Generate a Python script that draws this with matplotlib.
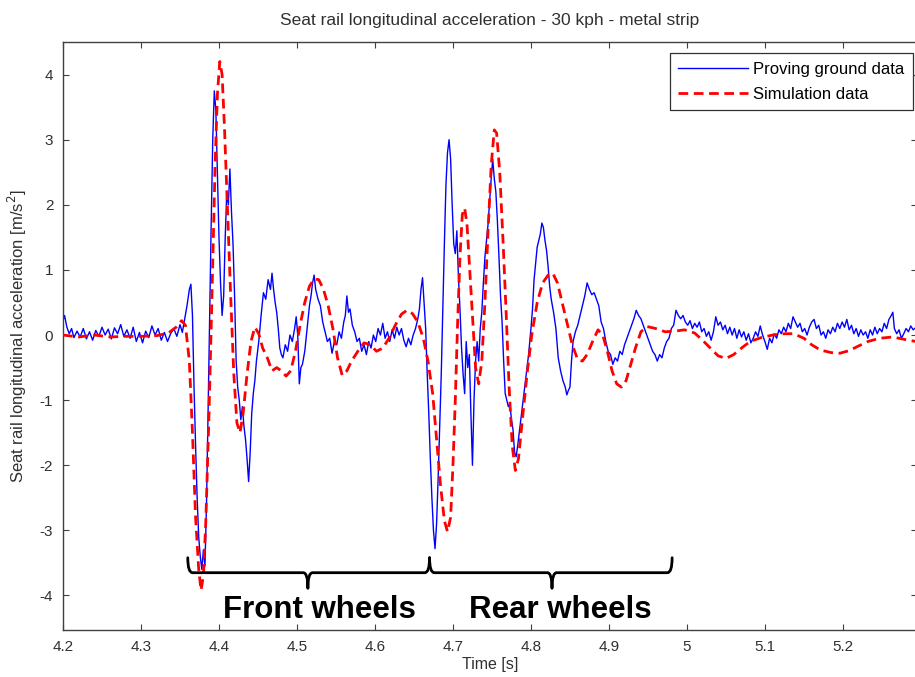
import matplotlib
matplotlib.use("Agg")
import matplotlib.pyplot as plt
from matplotlib.path import Path
from matplotlib.patches import PathPatch

# proving ground data (time [s], acceleration [m/s^2])
blue_t = [4.200, 4.202, 4.205, 4.208, 4.211, 4.214, 4.218, 4.222, 4.226, 4.230,
          4.234, 4.238, 4.242, 4.246, 4.250, 4.254, 4.258, 4.262, 4.266, 4.270,
          4.274, 4.278, 4.282, 4.286, 4.290, 4.294, 4.298, 4.302, 4.306, 4.310,
          4.314, 4.318, 4.322, 4.326, 4.330, 4.334, 4.338, 4.342, 4.346, 4.350,
          4.353, 4.356, 4.359, 4.362, 4.364, 4.366, 4.368, 4.370, 4.372, 4.374,
          4.376, 4.378, 4.380, 4.382, 4.384, 4.386, 4.388, 4.390, 4.392, 4.394,
          4.396, 4.398, 4.400, 4.402, 4.404, 4.406, 4.408, 4.410, 4.412, 4.414,
          4.416, 4.418, 4.420, 4.422, 4.424, 4.426, 4.428, 4.430, 4.432, 4.434,
          4.436, 4.438, 4.440, 4.442, 4.444, 4.446, 4.448, 4.451, 4.454, 4.457,
          4.460, 4.463, 4.466, 4.468, 4.470, 4.472, 4.474, 4.476, 4.478, 4.480,
          4.482, 4.485, 4.488, 4.491, 4.494, 4.497, 4.499, 4.501, 4.503, 4.505,
          4.507, 4.510, 4.513, 4.516, 4.518, 4.520, 4.522, 4.524, 4.527, 4.530,
          4.533, 4.536, 4.539, 4.542, 4.545, 4.548, 4.551, 4.554, 4.557, 4.560,
          4.562, 4.564, 4.566, 4.568, 4.571, 4.574, 4.577, 4.580, 4.583, 4.586,
          4.589, 4.592, 4.595, 4.598, 4.601, 4.604, 4.607, 4.610, 4.613, 4.616,
          4.619, 4.622, 4.625, 4.628, 4.631, 4.634, 4.637, 4.640, 4.643, 4.646,
          4.649, 4.652, 4.655, 4.657, 4.659, 4.661, 4.663, 4.665, 4.667, 4.669,
          4.671, 4.673, 4.675, 4.677, 4.679, 4.681, 4.683, 4.685, 4.687, 4.689,
          4.691, 4.693, 4.695, 4.697, 4.699, 4.701, 4.703, 4.705, 4.707, 4.709,
          4.711, 4.713, 4.715, 4.717, 4.719, 4.721, 4.723, 4.725, 4.727, 4.729,
          4.731, 4.733, 4.735, 4.737, 4.739, 4.741, 4.743, 4.745, 4.747, 4.749,
          4.751, 4.753, 4.755, 4.757, 4.759, 4.761, 4.763, 4.765, 4.767, 4.769,
          4.771, 4.773, 4.775, 4.777, 4.779, 4.781, 4.783, 4.785, 4.788, 4.791,
          4.794, 4.797, 4.800, 4.802, 4.804, 4.806, 4.808, 4.810, 4.812, 4.814,
          4.816, 4.818, 4.820, 4.822, 4.824, 4.826, 4.829, 4.832, 4.835, 4.838,
          4.841, 4.844, 4.846, 4.848, 4.850, 4.852, 4.854, 4.857, 4.860, 4.863,
          4.866, 4.869, 4.872, 4.875, 4.878, 4.881, 4.884, 4.887, 4.890, 4.893,
          4.896, 4.899, 4.902, 4.905, 4.908, 4.911, 4.914, 4.917, 4.920, 4.923,
          4.926, 4.929, 4.932, 4.935, 4.938, 4.941, 4.944, 4.947, 4.950, 4.953,
          4.956, 4.959, 4.962, 4.965, 4.968, 4.971, 4.974, 4.977, 4.980, 4.983,
          4.986, 4.989, 4.992, 4.995, 4.998, 5.001, 5.004, 5.007, 5.010, 5.013,
          5.016, 5.019, 5.022, 5.025, 5.028, 5.031, 5.034, 5.037, 5.040, 5.043,
          5.046, 5.049, 5.052, 5.055, 5.058, 5.061, 5.064, 5.067, 5.070, 5.073,
          5.076, 5.079, 5.082, 5.085, 5.088, 5.091, 5.094, 5.097, 5.100, 5.103,
          5.106, 5.109, 5.112, 5.115, 5.118, 5.121, 5.124, 5.127, 5.130, 5.133,
          5.136, 5.139, 5.142, 5.145, 5.148, 5.151, 5.154, 5.157, 5.160, 5.163,
          5.166, 5.169, 5.172, 5.175, 5.178, 5.181, 5.184, 5.187, 5.190, 5.193,
          5.196, 5.199, 5.202, 5.205, 5.208, 5.211, 5.214, 5.217, 5.220, 5.223,
          5.226, 5.229, 5.232, 5.235, 5.238, 5.241, 5.244, 5.247, 5.250, 5.253,
          5.256, 5.259, 5.262, 5.264, 5.266, 5.269, 5.272, 5.275, 5.278, 5.281,
          5.284, 5.287, 5.290, 5.294]
blue_acc = [0.22, 0.30, 0.12, 0.02, 0.10, -0.04, 0.06, -0.03, 0.10, -0.06,
            0.05, -0.08, 0.07, -0.02, 0.12, 0.00, 0.09, -0.06, 0.11, 0.02,
            0.16, -0.02, 0.08, -0.05, 0.12, -0.10, 0.04, -0.12, 0.06, -0.04,
            0.14, 0.00, 0.10, -0.08, 0.04, -0.10, 0.02, 0.10, -0.02, 0.16,
            0.04, 0.25, 0.45, 0.70, 0.78, 0.30, -0.80, -1.70, -2.50, -3.10,
            -3.40, -3.60, -3.30, -3.55, -2.60, -1.20, 0.30, 1.70, 3.00, 3.75,
            3.45, 2.50, 1.50, 0.80, 0.30, 0.60, 1.50, 2.20, 2.00, 2.55,
            1.90, 1.40, 0.60, -0.40, -0.80, -1.00, -1.30, -1.10, -1.40, -1.60,
            -1.90, -2.25, -1.80, -1.20, -0.90, -0.70, -0.40, -0.10, 0.30, 0.65,
            0.55, 0.85, 0.70, 0.95, 0.70, 0.50, 0.35, 0.10, -0.20, -0.30,
            -0.35, -0.15, -0.25, 0.00, -0.10, 0.10, 0.28, 0.00, -0.75, -0.50,
            -0.45, -0.25, 0.10, 0.45, 0.60, 0.80, 0.92, 0.70, 0.55, 0.45,
            0.20, 0.05, -0.10, -0.05, -0.28, -0.10, -0.15, 0.05, -0.05, 0.20,
            0.30, 0.60, 0.35, 0.40, 0.15, 0.05, -0.10, -0.05, -0.25, -0.15,
            -0.30, -0.10, -0.20, 0.00, -0.10, 0.10, 0.00, 0.18, -0.05, 0.05,
            -0.10, 0.08, -0.05, 0.12, 0.00, 0.10, -0.08, -0.18, -0.05, -0.15,
            0.00, 0.10, 0.25, 0.40, 0.70, 0.88, 0.50, 0.10, -0.60, -1.20,
            -1.90, -2.50, -3.00, -3.28, -2.90, -2.20, -1.40, -0.60, 0.40, 1.40,
            2.30, 2.80, 3.00, 2.70, 2.00, 1.40, 1.25, 1.60, 0.90, 0.40,
            -0.20, -0.60, -0.90, -0.10, -0.50, -0.30, -1.20, -2.00, -1.00, -0.40,
            -0.10, -0.40, 0.10, 0.35, 0.80, 1.20, 1.45, 1.70, 2.05, 2.40,
            2.70, 2.40, 2.20, 1.75, 1.20, 0.60, 0.20, -0.40, -0.90, -1.00,
            -1.10, -1.05, -1.30, -1.45, -1.80, -1.87, -1.70, -1.50, -1.20, -0.90,
            -0.60, -0.30, 0.10, 0.40, 0.85, 1.10, 1.35, 1.45, 1.55, 1.72,
            1.65, 1.45, 1.30, 1.05, 0.75, 0.55, 0.35, 0.10, -0.35, -0.55,
            -0.70, -0.80, -0.92, -0.85, -0.80, -0.40, -0.10, 0.05, 0.15, 0.30,
            0.45, 0.60, 0.80, 0.70, 0.62, 0.65, 0.55, 0.45, 0.20, 0.10,
            -0.10, -0.25, -0.30, -0.45, -0.35, -0.40, -0.25, -0.30, -0.15, -0.05,
            0.05, 0.15, 0.25, 0.38, 0.30, 0.25, 0.15, 0.05, -0.05, -0.15,
            -0.25, -0.30, -0.40, -0.30, -0.35, -0.20, -0.10, -0.05, 0.10, 0.15,
            0.38, 0.30, 0.25, 0.30, 0.20, 0.15, 0.22, 0.10, 0.18, 0.12,
            0.20, 0.05, 0.10, -0.02, 0.05, -0.08, 0.05, 0.28, 0.15, 0.20,
            0.08, 0.15, 0.02, 0.12, 0.00, 0.10, -0.05, 0.08, -0.03, 0.05,
            -0.08, 0.02, -0.12, -0.05, 0.05, -0.02, 0.14, 0.00, -0.10, -0.22,
            -0.05, -0.12, 0.02, -0.05, 0.08, 0.02, 0.12, 0.05, 0.18, 0.10,
            0.28, 0.20, 0.12, 0.18, 0.05, 0.10, 0.00, 0.12, 0.20, 0.24,
            0.10, 0.15, 0.00, 0.05, -0.05, 0.08, 0.02, 0.12, 0.05, 0.18,
            0.10, 0.20, 0.12, 0.24, 0.08, 0.15, 0.02, 0.10, -0.02, 0.08,
            0.00, 0.05, -0.05, 0.08, 0.00, 0.12, 0.02, 0.10, 0.05, 0.18,
            0.10, 0.24, 0.30, 0.35, 0.10, 0.02, 0.08, -0.05, 0.02, 0.10,
            0.05, 0.14, 0.08, 0.12]

# simulation data
sim_t = [4.200, 4.220, 4.240, 4.260, 4.280, 4.300, 4.320, 4.335, 4.345, 4.352,
         4.357, 4.362, 4.366, 4.370, 4.374, 4.377, 4.380, 4.383, 4.387, 4.391,
         4.395, 4.398, 4.401, 4.404, 4.407, 4.411, 4.415, 4.419, 4.423, 4.427,
         4.431, 4.436, 4.441, 4.446, 4.451, 4.456, 4.462, 4.468, 4.474, 4.480,
         4.486, 4.492, 4.498, 4.504, 4.510, 4.516, 4.522, 4.528, 4.534, 4.540,
         4.546, 4.552, 4.558, 4.564, 4.570, 4.578, 4.586, 4.594, 4.602, 4.610,
         4.618, 4.626, 4.634, 4.641, 4.648, 4.655, 4.662, 4.668, 4.674, 4.679,
         4.684, 4.689, 4.693, 4.697, 4.700, 4.703, 4.706, 4.709, 4.712, 4.715,
         4.718, 4.721, 4.725, 4.729, 4.733, 4.737, 4.741, 4.745, 4.749, 4.753,
         4.756, 4.760, 4.764, 4.768, 4.772, 4.776, 4.780, 4.784, 4.789, 4.795,
         4.801, 4.808, 4.815, 4.822, 4.828, 4.834, 4.840, 4.847, 4.853, 4.860,
         4.866, 4.872, 4.879, 4.886, 4.892, 4.898, 4.904, 4.910, 4.916, 4.922,
         4.928, 4.934, 4.941, 4.949, 4.960, 4.972, 4.985, 4.997, 5.010, 5.020,
         5.030, 5.040, 5.050, 5.060, 5.070, 5.081, 5.095, 5.110, 5.125, 5.137,
         5.150, 5.160, 5.171, 5.185, 5.196, 5.208, 5.218, 5.232, 5.247, 5.264,
         5.280, 5.294]
sim_acc = [0.00, -0.03, 0.00, -0.03, -0.02, -0.02, -0.01, 0.03, 0.12, 0.22,
           0.15, -0.40, -1.50, -2.80, -3.60, -3.92, -3.70, -2.90, -1.30, 0.60,
           2.60, 3.70, 4.20, 4.00, 3.20, 1.90, 0.60, -0.60, -1.35, -1.50,
           -1.20, -0.60, -0.10, 0.12, 0.02, -0.20, -0.35, -0.55, -0.50, -0.55,
           -0.63, -0.55, -0.25, 0.15, 0.50, 0.75, 0.86, 0.85, 0.70, 0.45,
           0.10, -0.35, -0.62, -0.55, -0.40, -0.25, -0.12, -0.15, -0.25, -0.20,
           -0.05, 0.15, 0.32, 0.38, 0.33, 0.20, -0.05, -0.40, -0.90, -1.60,
           -2.30, -2.85, -3.02, -2.80, -2.00, -1.00, 0.20, 1.20, 1.85, 1.95,
           1.70, 1.10, 0.30, -0.50, -0.75, -0.40, 0.50, 1.60, 2.60, 3.15,
           3.10, 2.50, 1.50, 0.40, -0.80, -1.70, -2.08, -1.90, -1.30, -0.60,
           0.00, 0.50, 0.80, 0.92, 0.95, 0.80, 0.50, 0.15, -0.15, -0.38,
           -0.40, -0.30, -0.10, 0.08, 0.00, -0.25, -0.55, -0.75, -0.80, -0.70,
           -0.45, -0.20, 0.05, 0.13, 0.10, 0.05, 0.06, 0.08, 0.03, -0.08,
           -0.20, -0.32, -0.36, -0.30, -0.20, -0.10, -0.04, 0.00, 0.02, 0.02,
           -0.05, -0.15, -0.23, -0.27, -0.28, -0.24, -0.18, -0.10, -0.05, -0.03,
           -0.07, -0.10]

x_ticks = [4.2, 4.3, 4.4, 4.5, 4.6, 4.7, 4.8, 4.9, 5.0, 5.1, 5.2]
x_ticklabels = ["4.2", "4.3", "4.4", "4.5", "4.6", "4.7", "4.8", "4.9", "5", "5.1", "5.2"]
y_ticks = [-4, -3, -2, -1, 0, 1, 2, 3, 4]

# wheel passages marked with braces below the curves
wheel_labels = ["Front wheels", "Rear wheels"]
wheel_spans = [(4.360, 4.670), (4.670, 4.981)]
wheel_mid = [4.514, 4.827]
wheel_text_x = [4.529, 4.838]

plt.rcParams['font.family'] = ['Liberation Sans', 'DejaVu Sans']
plt.rcParams['axes.unicode_minus'] = False
txt_col = "#303030"

fig = plt.figure(figsize=(9.15, 6.77), dpi=100)
ax = fig.add_axes([63/915, 47/677, 854/915, 588/677])

ax.plot(blue_t, blue_acc, color="#0000ff", lw=1.0, label="Proving ground data", zorder=2)
ax.plot(sim_t, sim_acc, color="#ff0000", lw=2.0, ls=(0, (3.5, 2)),
        label="Simulation data", zorder=3)

ax.set_xlim(4.2, 5.295)
ax.set_ylim(-4.53, 4.5)
ax.set_xticks(x_ticks)
ax.set_xticklabels(x_ticklabels)
ax.set_yticks(y_ticks)
ax.tick_params(direction="in", length=4, width=0.8, colors="#404040",
               labelcolor=txt_col, labelsize=11, pad=7,
               top=True, right=True)
for s in ax.spines.values():
    s.set_color("#404040")
    s.set_linewidth(1.0)

ax.set_title("Seat rail longitudinal acceleration - 30 kph - metal strip",
             fontsize=12.5, color=txt_col, pad=12)
ax.set_xlabel("Time [s]", fontsize=11.5, color=txt_col, labelpad=2)
ax.set_ylabel("Seat rail longitudinal acceleration [m/s$^2$]", fontsize=12,
              color=txt_col, labelpad=8)

leg = ax.legend(loc="upper right", bbox_to_anchor=(0.995, 0.981), borderaxespad=0,
                fontsize=12, handlelength=4.2, handletextpad=0.3, borderpad=0.5,
                labelspacing=0.6, fancybox=False, framealpha=1.0)
leg.get_frame().set_edgecolor("#303030")
leg.get_frame().set_linewidth(0.9)


def brace(x0, x1, xm, y_end=-3.42, y_line=-3.65, y_tip=-3.89, r=0.006):
    verts = [(x0, y_end), (x0, y_line), (x0 + r, y_line),
             (xm - r, y_line), (xm, y_line), (xm, y_tip),
             (xm, y_line), (xm + r, y_line),
             (x1 - r, y_line), (x1, y_line), (x1, y_end)]
    codes = [Path.MOVETO, Path.CURVE3, Path.CURVE3,
             Path.LINETO, Path.CURVE3, Path.CURVE3,
             Path.CURVE3, Path.CURVE3,
             Path.LINETO, Path.CURVE3, Path.CURVE3]
    return PathPatch(Path(verts, codes), fill=False, lw=2.0, color="black",
                     capstyle="round", joinstyle="round", zorder=4)


for (x0, x1), xm, xt, lab in zip(wheel_spans, wheel_mid, wheel_text_x, wheel_labels):
    ax.add_patch(brace(x0, x1, xm))
    ax.text(xt, -4.22, lab, ha="center", va="center", fontsize=22.5,
            fontweight="bold", color="black", zorder=5)

fig.savefig("out.png", dpi=100)
